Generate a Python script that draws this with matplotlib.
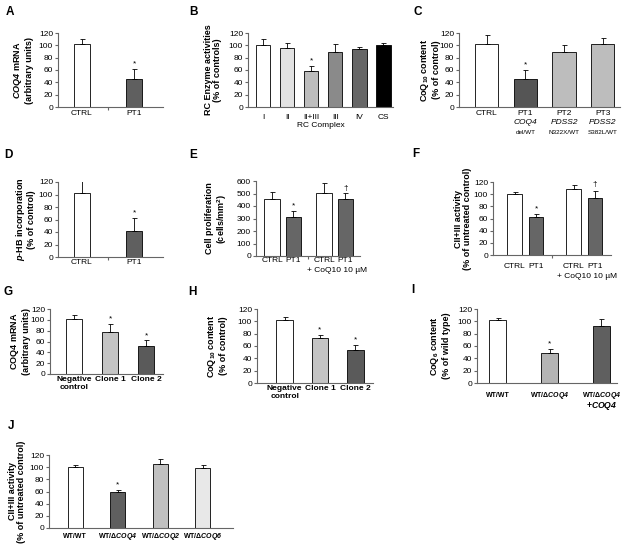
import numpy as np
import matplotlib
matplotlib.use('Agg')
import matplotlib.pyplot as plt
from matplotlib.transforms import offset_copy

plt.rcParams['font.family'] = ['Liberation Sans', 'DejaVu Sans']
plt.rcParams['mathtext.fontset'] = 'custom'
plt.rcParams['mathtext.rm'] = 'Liberation Sans'
plt.rcParams['mathtext.it'] = 'Liberation Sans:italic'
plt.rcParams['mathtext.bf'] = 'Liberation Sans:bold'
try:
    plt.rcParams['mathtext.bfit'] = 'Liberation Sans:italic:bold'
except KeyError:
    pass

# ---------------- data ----------------
a_labels = ['CTRL', 'PT1']
a_values = [102, 45]
a_errors = [8, 17]
a_marks = ['', '*']

b_labels = ['I', 'II', 'II+III', 'III', 'IV', 'CS']
b_values = [100, 96, 59, 89, 94, 100]
b_errors = [10, 8, 8, 13, 4, 4]
b_marks = ['', '', '*', '', '', '']

c_labels = ['CTRL', 'PT1', 'PT2', 'PT3']
c_genes = ['', 'COQ4', 'PDSS2', 'PDSS2']
c_variants = ['', 'del/WT', 'N322X/WT', 'S382L/WT']
c_values = [102, 45, 89, 102]
c_errors = [14, 15, 11, 10]
c_marks = ['', '*', '', '']

d_labels = ['CTRL', 'PT1']
d_values = [102, 41]
d_errors = [20, 21]
d_marks = ['', '*']

e_labels = ['CTRL', 'PT1', 'CTRL', 'PT1']
e_groups = [0, 0, 1, 1]
e_values = [455, 310, 505, 460]
e_errors = [55, 50, 80, 45]
e_marks = ['', '*', '', '\u2020']

f_labels = ['CTRL', 'PT1', 'CTRL', 'PT1']
f_groups = [0, 0, 1, 1]
f_values = [101, 62, 108, 94]
f_errors = [3, 5, 7, 12]
f_marks = ['', '*', '', '\u2020']

treatment_label = '+ CoQ10 10 \u00b5M'

g_labels = ['Negative\ncontrol', 'Clone 1', 'Clone 2']
g_values = [102, 77, 51]
g_errors = [7, 16, 11]
g_marks = ['', '*', '*']

h_labels = ['Negative\ncontrol', 'Clone 1', 'Clone 2']
h_values = [102, 73, 54]
h_errors = [5, 5, 8]
h_marks = ['', '*', '*']

i_labels = ['WT/WT', 'WT/\u0394$\\mathbfit{COQ4}$', 'WT/\u0394$\\mathbfit{COQ4}$']
i_extra = ['', '', '+$\\mathbfit{COQ4}$']
i_values = [102, 48, 93]
i_errors = [3, 7, 11]
i_marks = ['', '*', '']

j_labels = ['WT/WT', 'WT/\u0394$\\mathbfit{COQ4}$', 'WT/\u0394$\\mathbfit{COQ2}$',
            'WT/\u0394$\\mathbfit{COQ6}$']
j_values = [100, 59, 105, 99]
j_errors = [3, 4, 8, 4]
j_marks = ['', '*', '', '']

# ---------------- figure ----------------
W, H = 624, 556
fig = plt.figure(figsize=(W / 100, H / 100), dpi=100)
SPINE = '#666666'


def panel(box, x, values, errors, colors, marks, ymax, ystep, xlim, width,
          ylabel, ylabel_x, mark_off=0.02):
    x0, x1, yt, yb = box
    ax = fig.add_axes([x0 / W, 1 - yb / H, (x1 - x0) / W, (yb - yt) / H])
    n = len(values)
    ax.bar(x, values, width=width, color=colors, edgecolor='black',
           linewidth=0.6, zorder=2)
    ax.errorbar(x, values, yerr=[np.zeros(n), errors], fmt='none',
                ecolor='black', elinewidth=0.6, capsize=1.8, capthick=0.6,
                zorder=3)
    for xi, v, e, m in zip(x, values, errors, marks):
        if m:
            ax.text(xi, v + e + ymax * mark_off, m, ha='center', va='bottom',
                    fontsize=6, clip_on=False)
    ax.set_xlim(*xlim)
    ax.set_ylim(0, ymax)
    ax.set_yticks(np.arange(0, ymax + ystep / 2, ystep))
    for s in ['top', 'right']:
        ax.spines[s].set_visible(False)
    for s in ['left', 'bottom']:
        ax.spines[s].set_color(SPINE)
        ax.spines[s].set_linewidth(0.8)
    ax.tick_params(axis='y', direction='out', length=2.2, width=0.8,
                   color=SPINE, labelsize=6, pad=1.4)
    ax.tick_params(axis='x', which='major', length=0, labelsize=6, pad=1.5)
    ax.patch.set_alpha(0)
    fig.text(ylabel_x / W, 1 - ((yt + yb) / 2) / H, ylabel, rotation=90,
             ha='center', va='center', fontsize=6.5, fontweight='bold',
             linespacing=1.1, multialignment='center')
    return ax


def sep_tick(ax, pos):
    ax.set_xticks([pos], minor=True)
    ax.tick_params(axis='x', which='minor', direction='out', length=2.5,
                   width=0.8, color=SPINE)


def under(ax, xpos, text, dy, **kw):
    tr = offset_copy(ax.get_xaxis_transform(), fig=fig, x=0, y=-dy, units='dots')
    ax.text(xpos, 0, text, transform=tr, ha='center', va='center', **kw)


def letter(x, y, s):
    fig.text(x / W, 1 - y / H, s, fontsize=8.5, fontweight='bold',
             ha='center', va='center')


# A
xa = np.arange(len(a_values))
ax = panel((58, 163, 33, 107), xa, a_values, a_errors, ['white', '#5f5f5f'],
           a_marks, 120, 20, (-0.45, 1.55), 0.3,
           '$\\mathbfit{COQ4}$ mRNA\n(arbitrary units)', 23)
ax.set_xticks(xa, a_labels)
ax.tick_params(axis='x', pad=2)
sep_tick(ax, 0.5)

# B
xb = np.arange(len(b_values))
ax = panel((248, 393, 33, 107), xb, b_values, b_errors,
           ['white', '#e2e2e2', '#bdbdbd', '#8a8a8a', '#666666', 'black'],
           b_marks, 120, 20, (-0.62, 5.4), 0.6,
           'RC Enzyme activities\n(% of controls)', 213)
ax.set_xticks(xb, b_labels)
ax.tick_params(axis='x', pad=5)
ax.set_xlabel('RC Complex', fontsize=6, labelpad=1)

# C
xc = np.arange(len(c_values))
ax = panel((459, 620, 33, 107), xc, c_values, c_errors,
           ['white', '#555555', '#bdbdbd', '#bdbdbd'],
           c_marks, 120, 20, (-0.72, 3.45), 0.6,
           '$\\mathbf{CoQ_{10}}$ content\n(% of control)', 430)
ax.set_xticks([])
for xi, lab, gene, var in zip(xc, c_labels, c_genes, c_variants):
    under(ax, xi, lab, 6.5, fontsize=6)
    if gene:
        under(ax, xi, gene, 16, fontsize=6, style='italic')
    if var:
        under(ax, xi, var, 26, fontsize=4.6)

# D
xd = np.arange(len(d_values))
ax = panel((58, 163, 182, 257), xd, d_values, d_errors, ['white', '#5f5f5f'],
           d_marks, 120, 20, (-0.45, 1.55), 0.3,
           '$\\mathbfit{p}$-HB incorporation\n(% of control)', 25)
ax.set_xticks(xd, d_labels)
ax.tick_params(axis='x', pad=1.5)
sep_tick(ax, 0.5)

# E
xe = np.array(e_groups) + np.tile([0.31, 0.72], 2)
ax = panel((256, 360, 181, 256), xe, e_values, e_errors,
           ['white', '#666666', 'white', '#666666'],
           e_marks, 600, 100, (0, 2), 0.3,
           'Cell proliferation\n(cells/$\\mathbf{mm^2}$)', 217, mark_off=0.015)
ax.set_xticks(xe, e_labels)
ax.tick_params(axis='x', pad=0.8)
sep_tick(ax, 1)
under(ax, xe[2:].mean() + 0.05, treatment_label, 14, fontsize=6)

# F
xf = np.array(f_groups) + np.tile([0.37, 0.73], 2)
ax = panel((493, 611, 182, 255), xf, f_values, f_errors,
           ['white', '#666666', 'white', '#666666'],
           f_marks, 120, 20, (0, 2), 0.25,
           'CII+III activity\n(% of untreated control)', 463, mark_off=0.03)
ax.set_xticks(xf, f_labels)
ax.tick_params(axis='x', pad=5.5)
sep_tick(ax, 1)
under(ax, xf[2:].mean() + 0.05, treatment_label, 22, fontsize=6)

# G
xg = np.arange(len(g_values))
ax = panel((50, 163, 309, 374), xg, g_values, g_errors,
           ['white', '#c4c4c4', '#5a5a5a'],
           g_marks, 120, 20, (-0.67, 2.47), 0.46,
           '$\\mathbf{COQ4}$ mRNA\n(arbitrary units)', 20)
ax.set_xticks(xg, g_labels, fontweight='bold', linespacing=1.15)
ax.tick_params(axis='x', pad=1.5)

# H
xh = np.arange(len(h_values))
ax = panel((257, 373, 309, 383), xh, h_values, h_errors,
           ['white', '#c4c4c4', '#5a5a5a'],
           h_marks, 120, 20, (-0.78, 2.5), 0.47,
           '$\\mathbf{CoQ_{10}}$ content\n(% of control)', 217)
ax.set_xticks(xh, h_labels, fontweight='bold', linespacing=1.15)
ax.tick_params(axis='x', pad=1.5)

# I
xi_ = np.arange(len(i_values))
ax = panel((477, 617, 309, 383), xi_, i_values, i_errors,
           ['white', '#b4b4b4', '#5f5f5f'],
           i_marks, 120, 20, (-0.4, 2.3), 0.33,
           '$\\mathbf{CoQ_6}$ content\n(% of wild type)', 440)
ax.set_xticks([])
for xv, lab, extra in zip(xi_, i_labels, i_extra):
    under(ax, xv, lab, 12.5, fontsize=5, fontweight='bold')
    if extra:
        under(ax, xv, extra, 22.5, fontsize=6.2, fontweight='bold')

# J
xj = np.arange(len(j_values))
ax = panel((49, 233, 455, 528), xj, j_values, j_errors,
           ['white', '#5f5f5f', '#c0c0c0', '#e8e8e8'],
           j_marks, 120, 20, (-0.62, 3.71), 0.36,
           'CII+III activity\n(% of untreated control)', 17)
ax.set_xticks([])
for xv, lab in zip(xj, j_labels):
    under(ax, xv, lab, 9, fontsize=5, fontweight='bold')

# panel letters
for s, (lx, ly) in {'A': (10, 12), 'B': (193, 12), 'C': (418, 12),
                    'D': (8, 155), 'E': (193, 155), 'F': (416, 154),
                    'G': (8, 292), 'H': (192, 292), 'I': (413, 290),
                    'J': (11, 426)}.items():
    letter(lx, ly, s)

fig.savefig('out.png', dpi=100)
